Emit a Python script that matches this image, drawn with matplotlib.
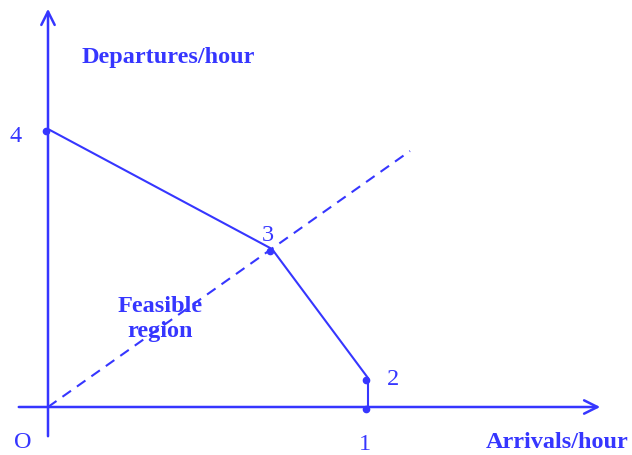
import matplotlib.pyplot as plt

# colour and font
blue = "#3636ff"
plt.rcParams['font.family'] = ['Liberation Serif', 'DejaVu Serif']

# corner points of the feasible region (arrivals, departures), arbitrary units
pt_x = [0, 224, 320, 320]
pt_y = [278, 158, 29, 0]
pt_lbl = ["4", "3", "2", "1"]
# dashed line from origin
dash_x = [0, 362]
dash_y = [0, 256]

fig = plt.figure(figsize=(6.32, 4.56), dpi=100)
ax = fig.add_axes([0, 0, 1, 1])
ax.set_xlim(-48, 584)
ax.set_ylim(-48, 408)
ax.axis("off")

# axes with arrows
ax.annotate("", xy=(555, 0), xytext=(-32, 0),
            arrowprops=dict(arrowstyle="->", color=blue, lw=1.8, mutation_scale=24))
ax.annotate("", xy=(0, 401), xytext=(0, -32),
            arrowprops=dict(arrowstyle="->", color=blue, lw=1.8, mutation_scale=24))

# boundary
ax.plot(pt_x, pt_y, color=blue, lw=1.5)
ax.plot(dash_x, dash_y, color=blue, lw=1.5, ls=(0, (5, 3.5)))
ax.plot([p - 2 for p in pt_x], [p - 2 for p in pt_y], "o", color=blue, ms=4.5)

# point labels
fs = 17.5
ax.text(-32, 271, pt_lbl[0], color=blue, fontsize=fs, ha="center", va="center")
ax.text(220, 172, pt_lbl[1], color=blue, fontsize=fs, ha="center", va="center")
ax.text(345, 28, pt_lbl[2], color=blue, fontsize=fs, ha="center", va="center")
ax.text(317, -37, pt_lbl[3], color=blue, fontsize=fs, ha="center", va="center")
ax.text(-25, -35, "O", color=blue, fontsize=fs, ha="center", va="center")

# axis titles
ax.text(120, 351, "Departures/hour", color=blue, fontsize=fs, fontweight="bold",
        ha="center", va="center")
ax.text(509, -35, "Arrivals/hour", color=blue, fontsize=fs, fontweight="bold",
        ha="center", va="center")
ax.text(112, 89, "Feasible\nregion", color=blue, fontsize=fs, fontweight="bold",
        ha="center", va="center", linespacing=1.28)

fig.savefig("out.png", dpi=100)
